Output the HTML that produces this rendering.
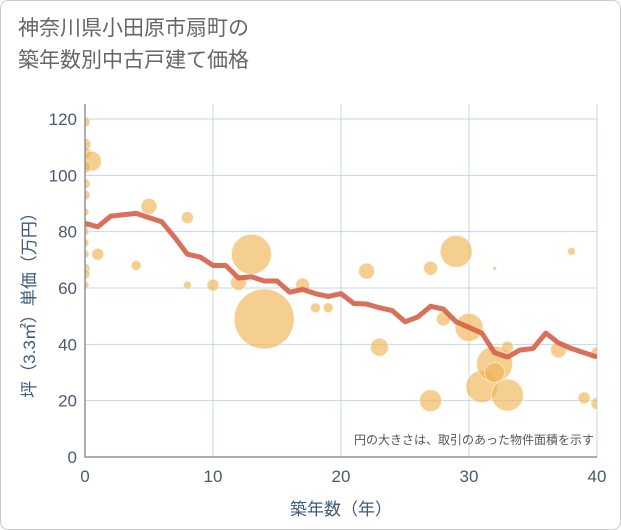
<!DOCTYPE html>
<html><head><meta charset="utf-8"><style>
body{margin:0;background:#fff;font-family:"Liberation Sans","Noto Sans CJK JP",sans-serif}
#wrap{position:relative;width:619px;height:528px;border:1px solid #ccc;border-radius:8px;overflow:hidden}
#title{position:absolute;left:17px;top:12px;font-size:21px;line-height:32px;color:#666}
svg{position:absolute;left:0;top:0}
</style></head><body>
<div id="wrap">
<div id="title">神奈川県小田原市扇町の<br>築年数別中古戸建て価格</div>
<svg id="c" width="621" height="530"></svg>
</div>
<script>
const xTicks=[0,10,20,30,40];
const yTicks=[0,20,40,60,80,100,120];
const lineX=[0,1,2,3,4,5,6,7,8,9,10,11,12,13,14,15,16,17,18,19,20,21,22,23,24,25,26,27,28,29,30,31,32,33,34,35,36,37,38,39,40];
const lineY=[83,81.7,85.5,86,86.5,85,83.5,78,72,71,68,68,63.5,64,62.5,62.5,58.5,59.5,58,57,58,54.5,54.3,53,52,48,49.7,53.5,52.5,48,46,44,37,35.5,38,38.5,44,40.5,38.5,37,35.5];
const bubX=[0,0,0,0.5,0,0,0,0,0,0,0,0,0,0,0,1,4,5,8,8,10,12,13,14,17,18,19,22,23,27,27,28,29,30,31,32,32,33,33,32,37,38,39,40,40];
const bubY=[119,111,108,105,103,97,93,87,82,80,76,72,67,65,61,72,68,89,85,61,61,62,72,49,61,53,53,66,39,67,20,49,73,46,25,33,30,22,39,67,38,73,21,19,37];
const bubR=[5,6,6,10,6,5,5,4,4,4,4,4,5,5,4,6,5,8,6,4,6,8,20,30,7,5,5,8,9,7,11,7,16,14,16,18,10,16,6,2,8,4,6,6,6];
const L=84,R=596,T=103,B=456;
const sx=v=>L+(v-0)/40*(R-L);
const sy=v=>B-v/120*(B-118);
const svg=document.getElementById('c');const NS='http://www.w3.org/2000/svg';
function mk(t,a,p){const e=document.createElementNS(NS,t);for(const k in a)e.setAttribute(k,a[k]);(p||svg).appendChild(e);return e;}
const defs=mk('defs',{});
const cp=mk('clipPath',{id:'pc'},defs);
mk('rect',{x:L,y:T,width:R-L,height:B-T},cp);
const bg=mk('rect',{x:L,y:T,width:R-L,height:B-T,fill:'#fff',stroke:'none'});


xTicks.forEach(t=>{const l=mk('line',{x1:sx(t),x2:sx(t),y1:T,y2:B,stroke:'#c5d6e8','stroke-width':1});


const tx=mk('text',{x:sx(t),y:481,'text-anchor':'middle','font-size':17,fill:'#4a5a6a'});tx.textContent=t;

});
yTicks.forEach(t=>{const l=mk('line',{x1:L,x2:R,y1:sy(t),y2:sy(t),stroke:'#c5d6e8','stroke-width':1});


const tx=mk('text',{x:76,y:sy(t)+6,'text-anchor':'end','font-size':17,fill:'#4a5a6a'});tx.textContent=t;

});
const g=mk('g',{'clip-path':'url(#pc)'});


bubX.forEach((x,i)=>{const c=mk('circle',{cx:sx(x),cy:sy(bubY[i]),r:bubR[i],fill:'#f0b655','fill-opacity':0.65,stroke:'#fff','stroke-opacity':0.5,'stroke-width':1},g);

});
const p=mk('polyline',{points:lineX.map((x,i)=>sx(x)+','+sy(lineY[i])).join(' '),fill:'none',stroke:'#d5604a','stroke-opacity':0.9,'stroke-width':5,'stroke-linejoin':'round'},g);


const fr=mk('path',{d:`M${L},${T}V${B}H${R}`,fill:'none',stroke:'#8a949e','stroke-width':1.5});


const n=mk('text',{x:593,y:443,'text-anchor':'end','font-size':12,fill:'#555'});n.textContent='円の大きさは、取引のあった物件面積を示す';


const xt=mk('text',{x:340,y:514,'text-anchor':'middle','font-size':17,fill:'#3d5a7a'});xt.textContent='築年数（年）';


const yt=mk('text',{x:0,y:0,'text-anchor':'middle','font-size':17,fill:'#3d5a7a',transform:'translate(34,300) rotate(-90)'});yt.textContent='坪（3.3㎡）単価（万円）';


</script>
</body></html>
